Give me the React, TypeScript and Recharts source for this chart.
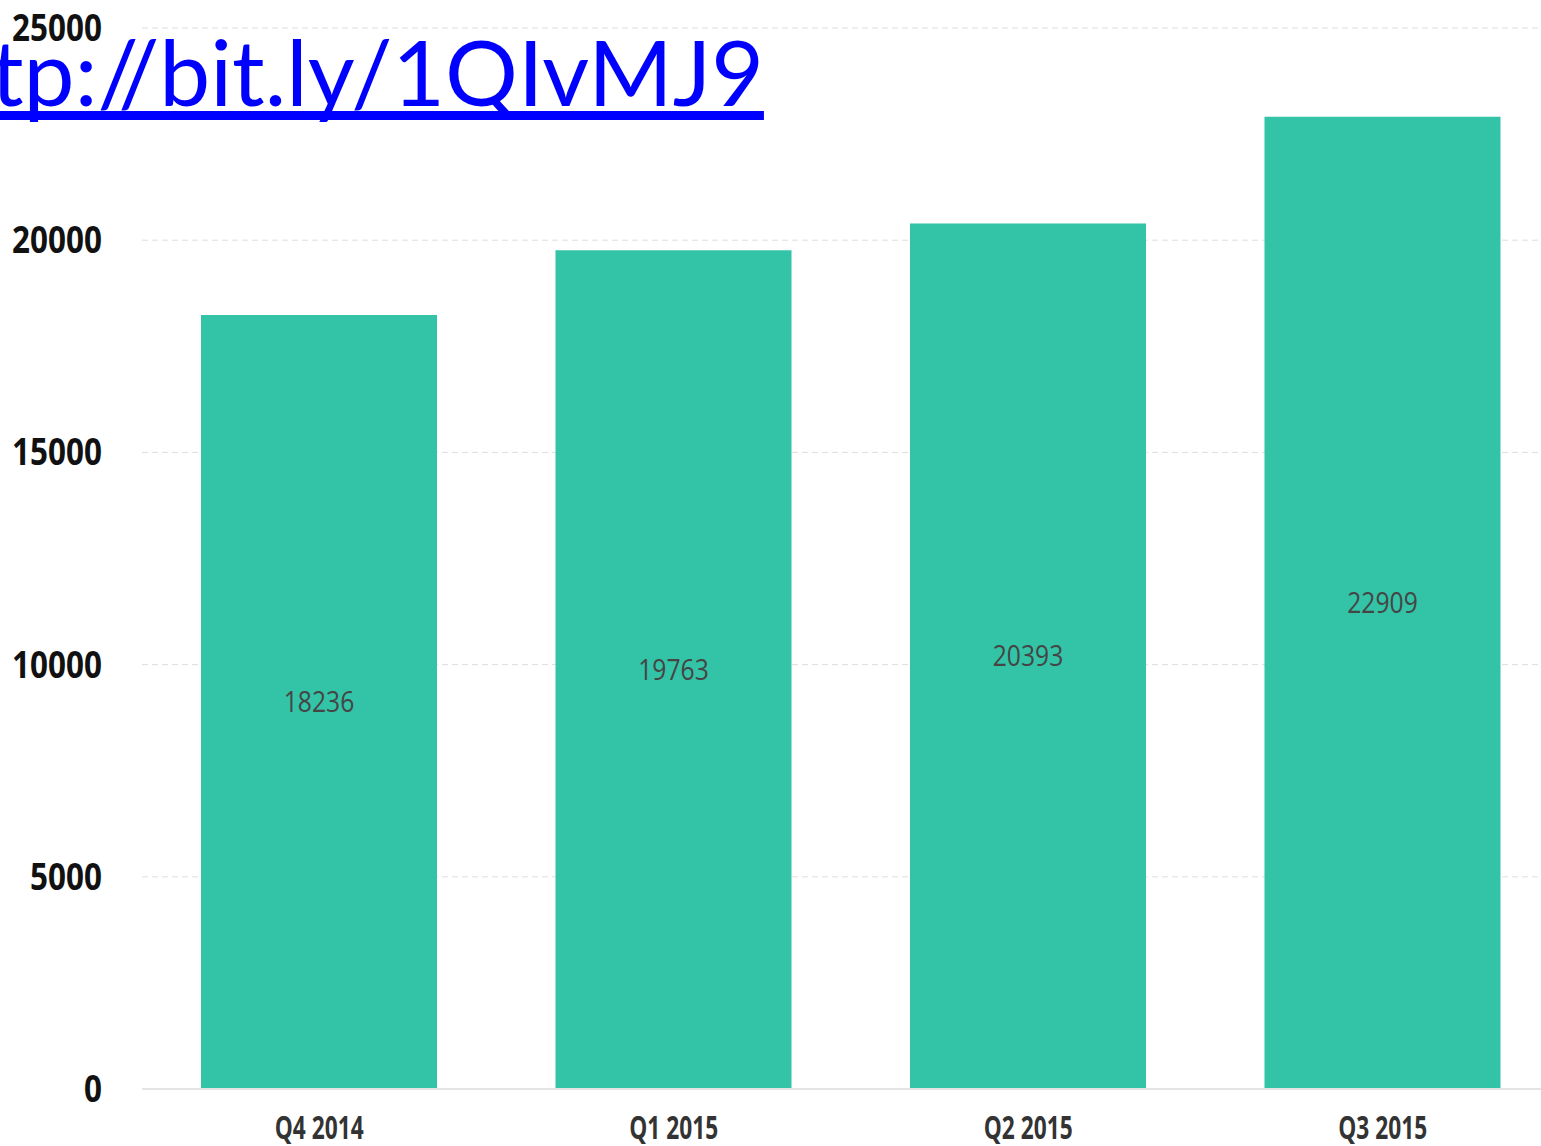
import React from "react";
import { BarChart, Bar, XAxis, YAxis, CartesianGrid, LabelList } from "recharts";

const quarters = ["Q4 2014", "Q1 2015", "Q2 2015", "Q3 2015"];
const values = [18236, 19763, 20393, 22909];
const yTicks = [0, 5000, 10000, 15000, 20000, 25000];
const linkText = "tp://bit.ly/1QIvMJ9";

const data = quarters.map((q, i) => ({ quarter: q, value: values[i] }));

const XTick = (props: any) => {
  const { x, y, payload } = props;
  return (
    <text
      transform={`translate(${x},${y + 44}) scale(0.71,1)`}
      textAnchor="middle"
      fill="#333333"
      fontSize={32}
      fontWeight={700}
      fontFamily="Open Sans"
    >
      {payload.value}
    </text>
  );
};

const YTick = (props: any) => {
  const { x, y, payload } = props;
  return (
    <text
      transform={`translate(${x},${y + 13}) scale(0.85,1)`}
      textAnchor="end"
      fill="#111111"
      fontSize={37}
      fontWeight={700}
      fontFamily="Open Sans"
    >
      {payload.value}
    </text>
  );
};

const ValueLabel = (props: any) => {
  const { x, y, width, height, value } = props;
  const cx = x + width / 2;
  const cy = y + height / 2;
  return (
    <text
      transform={`translate(${cx},${cy + 10}) scale(0.85,1)`}
      textAnchor="middle"
      fill="#454545"
      fontSize={29}
      fontFamily="Open Sans"
    >
      {value}
    </text>
  );
};

export default function App() {
  return (
    <div
      style={{
        position: "absolute",
        left: 0,
        top: 0,
        width: 1541,
        height: 1146,
        overflow: "hidden",
        background: "#ffffff",
      }}
    >
      <BarChart
        width={1560}
        height={1170}
        data={data}
        margin={{ top: 28, right: 0, left: 0, bottom: 21 }}
        barSize={236}
      >
        <CartesianGrid vertical={false} stroke="#dedede" strokeDasharray="6 4" />
        <XAxis
          dataKey="quarter"
          height={60}
          tickLine={false}
          axisLine={{ stroke: "#e4e4e4", strokeWidth: 2 }}
          tickMargin={0}
          tick={<XTick />}
        />
        <YAxis
          width={142}
          domain={[0, 25000]}
          ticks={yTicks}
          interval={0}
          tickLine={false}
          axisLine={false}
          tickMargin={34}
          tick={<YTick />}
        />
        <Bar dataKey="value" fill="#33C3A6" isAnimationActive={false}>
          <LabelList dataKey="value" content={<ValueLabel />} />
        </Bar>
      </BarChart>
      <a
        href="http://bit.ly/1QIvMJ9"
        style={{
          position: "absolute",
          left: -9,
          top: 16,
          fontFamily: "Lato",
          fontSize: 91,
          lineHeight: "110px",
          color: "#0000ff",
          textDecoration: "underline",
          textDecorationSkipInk: "none",
          whiteSpace: "nowrap",
        }}
      >
        {linkText}
      </a>
    </div>
  );
}
